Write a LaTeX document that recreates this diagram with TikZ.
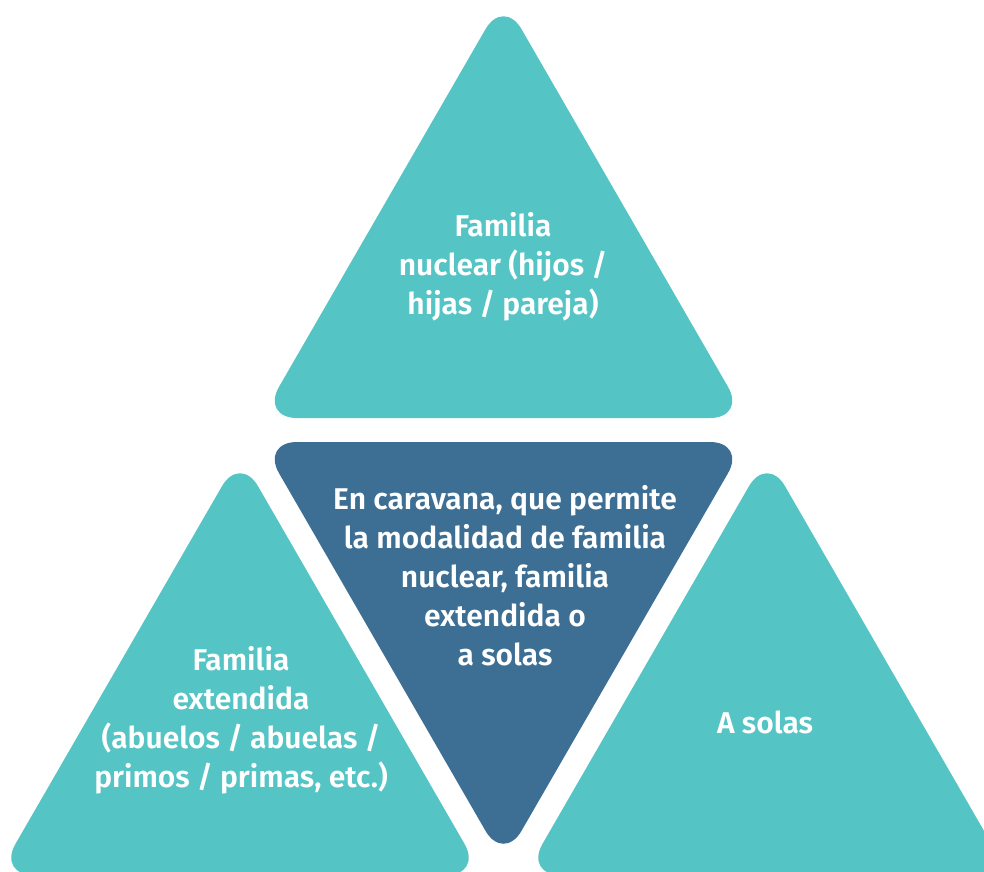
\documentclass[tikz,border=0pt]{standalone}
\usepackage{fontspec}
\setmainfont{Fira Sans}[BoldFont=Fira Sans SemiBold]
\definecolor{teal1}{RGB}{85,196,196}
\definecolor{blue1}{RGB}{61,111,148}
\tikzset{
  tri/.style={fill=teal1, rounded corners=36pt},
  tridark/.style={fill=blue1, rounded corners=36pt},
  lbl/.style={text=white, align=center, font=\bfseries\fontsize{30}{39}\selectfont, inner sep=0pt}
}
\begin{document}
\begin{tikzpicture}[x=1pt,y=-1pt]
\useasboundingbox (0,0) rectangle (984,871);
\clip (0,0) rectangle (984,871);
\fill[tri] (503.5,-2) -- (746,418) -- (261,418) -- cycle;
\fill[tridark] (261,442) -- (746,442) -- (503.5,862) -- cycle;
\fill[tri] (240,455) -- (482.5,875) -- (-2.5,875) -- cycle;
\fill[tri] (767,455) -- (1009.5,875) -- (524.5,875) -- cycle;
\node[lbl] (top) at (503,267) {Familia\\nuclear (hijos /\\hijas / pareja)};
\node[lbl] (mid) at (505,576) {En caravana, que permite\\la modalidad de familia\\nuclear, familia\\extendida o\\a solas};
\node[lbl] (left) at (241,720) {Familia\\extendida\\(abuelos / abuelas /\\primos / primas, etc.)};
\node[lbl] (right) at (765,722) {A solas};
\end{tikzpicture}
\end{document}
